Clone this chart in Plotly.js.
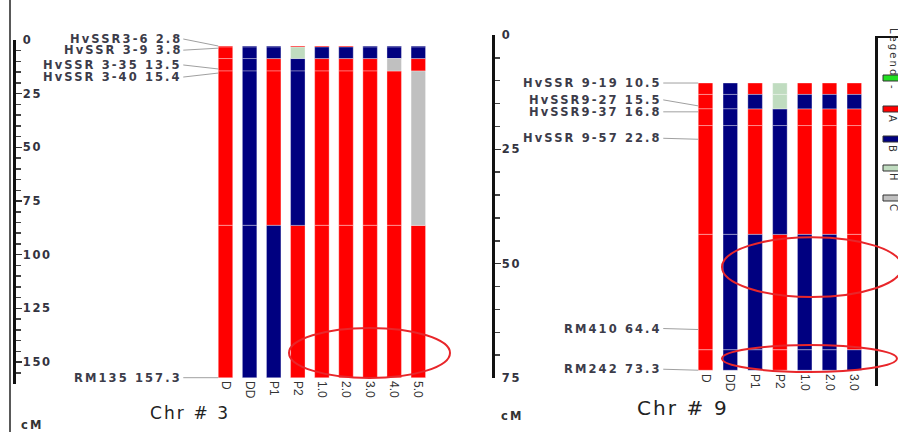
<!DOCTYPE html>
<html><head><meta charset="utf-8">
<script src="https://cdn.plot.ly/plotly-3.0.1.min.js"></script>
<style>
html,body{margin:0;padding:0;background:#fff}
#chart{width:898px;height:432px}
text.annotation-text{letter-spacing:2.1px}
g.ytick text, g.y2tick text{letter-spacing:1.7px}
</style>
</head><body><div id="chart"></div>
<script>
// ---------------- DATA ----------------
// Chromosome 3
const chr3Markers = ['HvSSR3-6', 'HvSSR 3-9', 'HvSSR 3-35', 'HvSSR 3-40', 'RM135'];
const chr3Positions = [2.8, 3.8, 13.5, 15.4, 157.3];
const chr3Lines = ['D', 'DD', 'P1', 'P2', '1.0', '2.0', '3.0', '4.0', '5.0'];
const chr3Genotypes = ['AAAAA', 'BBBBB', 'BBAAB', 'AHBBA', 'ABAAA', 'ABAAA', 'BBAAA', 'BBCAA', 'BBACA'];
const chr3TickVals = [0, 25, 50, 75, 100, 125, 150];
const chr3TickText = ['0', '25', '50', '75', '100', '125', '150'];

// Chromosome 9
const chr9Markers = ['HvSSR 9-19', 'HvSSR9-27', 'HvSSR9-37', 'HvSSR 9-57', 'RM410', 'RM242'];
const chr9Positions = [10.5, 15.5, 16.8, 22.8, 64.4, 73.3];
const chr9Lines = ['D', 'DD', 'P1', 'P2', '1.0', '2.0', '3.0'];
const chr9Genotypes = ['AAAAAA', 'BBBBBB', 'ABAABB', 'HHBBAA', 'ABAABB', 'ABAABB', 'ABAAAB'];
const chr9TickVals = [0, 25, 50, 75];
const chr9TickText = ['0', '25', '50', '75'];

// Legend codes
const genotypeCodes = ['-', 'A', 'B', 'H', 'C'];
const titles = ['Chr # 3', 'Chr # 9'];
const unitLabel = 'cM';

// ---------------- STYLE / LAYOUT ----------------
const genoColors = {'-': '#22e022', 'A': '#ff0000', 'B': '#000080', 'H': '#c0dcc0', 'C': '#c0c0c0'};
const chr3LabelDy = [-7, 2, -4, 4, 0];   // px offsets of marker labels (layout only)
const chr9LabelDy = [0, -6, 0, -1, -1, -1];
const W = 898, H = 432;
const px = v => v / W, py = v => 1 - v / H;
const labelFont = {family: 'DejaVu Sans', size: 11.5, color: '#3c3c4a', weight: 'bold'};
const tickFont = {family: 'DejaVu Sans', size: 11.5, color: '#333340', weight: 'bold'};
const catFont = {family: 'Liberation Sans, Arial', size: 12, color: '#333'};

function segments(positions) {
  const n = positions.length, out = [];
  for (let j = 0; j < n; j++) {
    const s = j === 0 ? positions[0] : (positions[j - 1] + positions[j]) / 2;
    const e = j === n - 1 ? positions[n - 1] : (positions[j] + positions[j + 1]) / 2;
    out.push([s, e]);
  }
  return out;
}

function barTraces(lines, genos, positions, xa, ya, bw) {
  const segs = segments(positions);
  const traces = [];
  genotypeCodes.forEach(code => {
    const x = [], y = [], base = [];
    lines.forEach((ln, i) => {
      segs.forEach((sg, j) => {
        if (genos[i][j] === code) { x.push(ln); base.push(sg[0]); y.push(sg[1] - sg[0]); }
      });
    });
    if (x.length) traces.push({
      type: 'bar', x, y, base, width: bw, xaxis: xa, yaxis: ya,
      marker: {color: genoColors[code], line: {color: 'rgba(255,255,255,0.55)', width: 0.6}},
      hoverinfo: 'skip', showlegend: false
    });
  });
  return traces;
}

function markerAnnotations(names, positions, dy, xa, ya, bw) {
  return names.map((nm, j) => ({
    xref: xa, yref: ya, x: -bw / 2, y: positions[j],
    text: nm + ' ' + positions[j].toFixed(1),
    showarrow: true, arrowhead: 0, arrowwidth: 1, arrowcolor: '#a0a0a0',
    ax: -35, ay: dy[j], xanchor: 'right', yanchor: 'middle', standoff: 0, borderpad: 0,
    font: labelFont
  }));
}

const bw3 = 0.6, bw9 = 0.585;
const data = [
  ...barTraces(chr3Lines, chr3Genotypes, chr3Positions, 'x', 'y', bw3),
  ...barTraces(chr9Lines, chr9Genotypes, chr9Positions, 'x2', 'y2', bw9)
];

const yCommon = {
  showline: true, linewidth: 3, linecolor: '#111', showgrid: false, zeroline: false,
  ticks: 'inside', ticklen: 6, tickwidth: 1.5, tickcolor: '#333',
  tickmode: 'array', ticklabelposition: 'inside', ticklabeloverflow: 'allow',
  minor: {tickmode: 'linear', tick0: 0, dtick: 5, ticks: 'inside', ticklen: 5, tickwidth: 1.5, tickcolor: '#444', showgrid: false},
  tickfont: tickFont, fixedrange: true
};
const xCommon = {
  type: 'category', categoryorder: 'array', showline: false, showgrid: false, zeroline: false,
  ticks: '', tickangle: 90, tickfont: catFont, anchor: 'free', fixedrange: true
};

const annotations = [
  ...markerAnnotations(chr3Markers, chr3Positions, chr3LabelDy, 'x', 'y', bw3),
  ...markerAnnotations(chr9Markers, chr9Positions, chr9LabelDy, 'x2', 'y2', bw9),
  {xref: 'paper', yref: 'paper', x: px(190), y: py(413), text: titles[0], showarrow: false,
   xanchor: 'center', yanchor: 'middle', font: {family: 'DejaVu Sans', size: 17, color: '#222'}},
  {xref: 'paper', yref: 'paper', x: px(683), y: py(408), text: titles[1], showarrow: false,
   xanchor: 'center', yanchor: 'middle', font: {family: 'DejaVu Sans', size: 20, color: '#222'}},
  {xref: 'paper', yref: 'paper', x: px(32), y: py(425), text: unitLabel, showarrow: false,
   xanchor: 'center', yanchor: 'middle', font: {family: 'DejaVu Sans', size: 11.5, color: '#333', weight: 'bold'}},
  {xref: 'paper', yref: 'paper', x: px(512), y: py(416), text: unitLabel, showarrow: false,
   xanchor: 'center', yanchor: 'middle', font: {family: 'DejaVu Sans', size: 11.5, color: '#333', weight: 'bold'}},
  {xref: 'paper', yref: 'paper', x: px(893), y: py(52), text: 'Legend', showarrow: false, textangle: 90,
   xanchor: 'center', yanchor: 'middle', font: {family: 'DejaVu Sans', size: 10, color: '#333'}}
];

const shapes = [
  // left border line
  {type: 'line', xref: 'paper', yref: 'paper', x0: px(10), x1: px(10), y0: 0, y1: 1, line: {color: '#222', width: 1.5}},
  // legend frame
  {type: 'line', xref: 'paper', yref: 'paper', x0: px(876.5), x1: px(876.5), y0: py(36), y1: py(386), line: {color: '#111', width: 3}},
  {type: 'line', xref: 'paper', yref: 'paper', x0: px(876), x1: 1, y0: py(37), y1: py(37), line: {color: '#111', width: 2}},
  // highlight ellipses
  {type: 'circle', xref: 'x', yref: 'y', x0: 2.635, x1: 9.315, y0: 134.1, y1: 157.4, line: {color: '#e8262a', width: 2}},
  {type: 'circle', xref: 'x2', yref: 'y2', x0: 0.665, x1: 7.92, y0: 44.2, y1: 57.3, line: {color: '#e8262a', width: 2}},
  {type: 'circle', xref: 'x2', yref: 'y2', x0: 0.665, x1: 7.72, y0: 67.8, y1: 73.7, line: {color: '#e8262a', width: 2}}
];

// legend swatches + labels
const legendY = [78, 109, 139, 168, 198];
genotypeCodes.forEach((code, k) => {
  shapes.push({type: 'rect', xref: 'paper', yref: 'paper', x0: px(883), x1: px(899), y0: py(legendY[k] - 3), y1: py(legendY[k] + 3),
    fillcolor: genoColors[code], line: {color: '#333', width: 1}});
  annotations.push({xref: 'paper', yref: 'paper', x: px(893), y: py(legendY[k] + 10), text: code, showarrow: false, textangle: 90,
    xanchor: 'center', yanchor: 'middle', font: {family: 'DejaVu Sans', size: 10, color: '#333'}});
});

const layout = {
  width: W, height: H, margin: {l: 0, r: 0, t: 0, b: 0},
  paper_bgcolor: '#fff', plot_bgcolor: 'rgba(0,0,0,0)', barmode: 'overlay', showlegend: false,
  xaxis: Object.assign({}, xCommon, {domain: [px(16), px(470)], range: [-8.693, 10.145], categoryarray: chr3Lines, position: py(380)}),
  yaxis: Object.assign({}, yCommon, {domain: [py(383.5), py(40)], range: [160, 0], anchor: 'x', tickvals: chr3TickVals, ticktext: chr3TickText}),
  xaxis2: Object.assign({}, xCommon, {domain: [px(495), 1], range: [-8.488, 7.762], categoryarray: chr9Lines, position: py(373)}),
  yaxis2: Object.assign({}, yCommon, {domain: [py(378), py(35)], range: [75, 0], anchor: 'x2', tickvals: chr9TickVals, ticktext: chr9TickText}),
  annotations, shapes
};

Plotly.newPlot('chart', data, layout, {displayModeBar: false, staticPlot: true});
</script></body></html>
